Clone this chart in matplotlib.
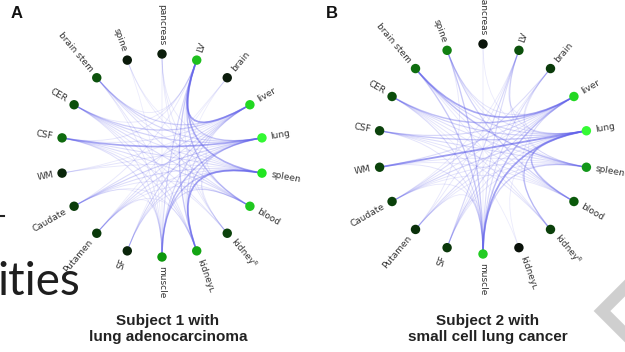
import matplotlib
matplotlib.use("Agg")
import matplotlib.pyplot as plt
from matplotlib.path import Path
from matplotlib.patches import PathPatch
import numpy as np

# nodes go clockwise from the top, 20 degrees apart
nodes = ["pancreas", "LV", "brain", "liver", "lung", "spleen", "blood", "kidneyR",
         "kidneyL", "muscle", "SF", "Putamen", "Caudate", "WM", "CSF", "CER",
         "brain stem", "spine"]
shown = ["pancreas", "LV", "brain", "liver", "lung", "spleen", "blood", "kidney\u1d3f",
         "kidney\u029f", "muscle", "SF", "Putamen", "Caudate", "WM", "CSF", "CER",
         "brain stem", "spine"]

colors_a = ["#0c1e0c", "#1fbf1f", "#0c1c0c", "#22d822", "#33f833", "#22e622", "#20c820",
            "#0b420b", "#13a513", "#0d980d", "#0a250a", "#0a3a0a", "#0b3d0b", "#0a260a",
            "#0f6a0f", "#0b500b", "#0c520c", "#0a1a0a"]
colors_b = ["#0a140a", "#0b500b", "#0a3a0a", "#22d822", "#35fa35", "#12961a", "#0b5a0b",
            "#0b400b", "#0a120a", "#22cc22", "#0a380a", "#0a300a", "#0a400a", "#0a420a",
            "#0b420b", "#0b4e0b", "#0f6e0f", "#128012"]

edges_a = [("LV", "liver", 0.85), ("LV", "spleen", 0.75), ("LV", "blood", 0.55),
           ("LV", "kidneyL", 0.5), ("LV", "lung", 0.45), ("LV", "muscle", 0.35),
           ("CSF", "lung", 0.8), ("lung", "muscle", 0.6), ("spleen", "kidneyL", 0.85),
           ("spleen", "muscle", 0.55), ("lung", "kidneyL", 0.45), ("liver", "CER", 0.45),
           ("lung", "CER", 0.4), ("lung", "brain stem", 0.35), ("liver", "brain stem", 0.4),
           ("spleen", "CSF", 0.3), ("lung", "Caudate", 0.4), ("spleen", "Caudate", 0.3),
           ("liver", "muscle", 0.35), ("liver", "kidneyL", 0.3), ("blood", "CER", 0.3),
           ("blood", "CSF", 0.3), ("lung", "Putamen", 0.3), ("spleen", "SF", 0.25),
           ("blood", "muscle", 0.3), ("liver", "Caudate", 0.3), ("liver", "Putamen", 0.25),
           ("blood", "brain stem", 0.25), ("muscle", "CSF", 0.25), ("kidneyL", "CSF", 0.25),
           ("pancreas", "blood", 0.15), ("pancreas", "kidneyR", 0.12), ("pancreas", "lung", 0.12),
           ("spine", "spleen", 0.1), ("spine", "lung", 0.1), ("brain", "Putamen", 0.1),
           ("brain", "SF", 0.08), ("WM", "lung", 0.2), ("WM", "spleen", 0.15), ("WM", "liver", 0.12),
           ("kidneyR", "CER", 0.18), ("kidneyR", "CSF", 0.15), ("kidneyR", "LV", 0.15),
           ("SF", "lung", 0.18), ("SF", "liver", 0.15), ("Putamen", "spleen", 0.2),
           ("Caudate", "blood", 0.18), ("Caudate", "kidneyL", 0.15), ("muscle", "CER", 0.2),
           ("muscle", "brain stem", 0.15), ("kidneyL", "CER", 0.2), ("kidneyL", "brain stem", 0.18),
           ("blood", "Putamen", 0.15), ("spleen", "brain stem", 0.2), ("spleen", "CER", 0.25),
           ("liver", "CSF", 0.2), ("liver", "SF", 0.15), ("LV", "CSF", 0.18), ("LV", "Caudate", 0.15),
           ("LV", "CER", 0.15), ("muscle", "Caudate", 0.12), ("muscle", "Putamen", 0.1),
           ("kidneyL", "Putamen", 0.12), ("blood", "SF", 0.12), ("lung", "kidneyR", 0.15),
           ("spleen", "kidneyR", 0.1), ("liver", "blood", 0.15), ("LV", "brain stem", 0.12),
           ("spine", "muscle", 0.08), ("pancreas", "muscle", 0.1), ("brain", "kidneyL", 0.08)]

edges_b = [("WM", "lung", 0.9), ("brain stem", "liver", 0.8), ("brain stem", "spleen", 0.6),
           ("CER", "liver", 0.6), ("CER", "lung", 0.4), ("CSF", "lung", 0.5), ("CSF", "spleen", 0.3),
           ("lung", "muscle", 0.85), ("liver", "muscle", 0.6), ("blood", "lung", 0.6),
           ("kidneyR", "lung", 0.55), ("spine", "muscle", 0.5), ("brain stem", "muscle", 0.5),
           ("spine", "blood", 0.4), ("LV", "SF", 0.35), ("brain", "Caudate", 0.3),
           ("Caudate", "lung", 0.35), ("Putamen", "liver", 0.3), ("SF", "liver", 0.3),
           ("spleen", "muscle", 0.45), ("CER", "muscle", 0.3), ("brain", "muscle", 0.3),
           ("LV", "muscle", 0.3), ("CSF", "liver", 0.35), ("WM", "liver", 0.3),
           ("brain stem", "lung", 0.35), ("spine", "lung", 0.25),
           ("pancreas", "muscle", 0.1), ("pancreas", "lung", 0.1), ("LV", "liver", 0.15),
           ("LV", "lung", 0.2), ("LV", "spleen", 0.15), ("brain", "lung", 0.2), ("brain", "spleen", 0.15),
           ("kidneyL", "lung", 0.1), ("kidneyL", "CER", 0.08), ("Putamen", "lung", 0.2),
           ("Putamen", "spleen", 0.15), ("SF", "lung", 0.2), ("SF", "spleen", 0.15),
           ("Caudate", "liver", 0.2), ("Caudate", "spleen", 0.2), ("WM", "spleen", 0.2),
           ("WM", "blood", 0.15), ("CSF", "blood", 0.2), ("CER", "spleen", 0.25), ("CER", "blood", 0.2),
           ("brain stem", "blood", 0.2), ("spine", "liver", 0.2), ("spine", "spleen", 0.15),
           ("kidneyR", "CER", 0.2), ("kidneyR", "CSF", 0.18), ("kidneyR", "liver", 0.15),
           ("blood", "liver", 0.15), ("muscle", "CSF", 0.2), ("muscle", "WM", 0.2),
           ("muscle", "Caudate", 0.15), ("muscle", "SF", 0.1), ("muscle", "Putamen", 0.12),
           ("blood", "Caudate", 0.15), ("LV", "Putamen", 0.15), ("brain", "SF", 0.12),
           ("spine", "Putamen", 0.15), ("LV", "Caudate", 0.12), ("kidneyR", "brain stem", 0.15)]

titles = ["Subject 1 with\nlung adenocarcinoma", "Subject 2 with\nsmall cell lung cancer"]
letters = ["A", "B"]

fig = plt.figure(figsize=(6.25, 3.52), dpi=100)
ax = fig.add_axes([0, 0, 1, 1])
ax.set_xlim(0, 625)
ax.set_ylim(352, 0)
ax.axis("off")

# leftovers of the slide behind the figure
ax.text(-3, 295, "ities", fontsize=33, family="Lato", color="#1e1e1e", va="baseline")
ax.plot([0, 4], [216, 216], color="#222222", lw=1.5)
ax.plot([645, 602, 645], [268, 311, 354], color="#cfcfcf", lw=8.5, solid_joinstyle="miter")


def circle(cx, cy, r, cols, edges, title, letter, tx, lx, ly):
    ang = np.deg2rad(90 - 20 * np.arange(len(nodes)))
    xs = cx + r * np.cos(ang)
    ys = cy - r * np.sin(ang)
    idx = {n: i for i, n in enumerate(nodes)}
    for a, b, w in sorted(edges, key=lambda e: e[2]):
        i, j = idx[a], idx[b]
        p = Path([(xs[i], ys[i]), (cx, cy), (xs[j], ys[j])],
                 [Path.MOVETO, Path.CURVE3, Path.CURVE3])
        ax.add_patch(PathPatch(p, fc="none", ec="#6262ea", lw=0.5 + 0.9 * w,
                               alpha=0.1 + 0.6 * w ** 1.3))
    ax.scatter(xs, ys, s=46, c=cols, zorder=3, linewidths=0)
    for k, name in enumerate(shown):
        deg = 90 - 20 * k
        lxk = cx + (r + 9) * np.cos(ang[k])
        lyk = cy - (r + 9) * np.sin(ang[k])
        if -90 <= deg < 90:
            ax.text(lxk, lyk, name, rotation=deg, ha="left", va="center",
                    rotation_mode="anchor", fontsize=6.5, color="#333333")
        else:
            ax.text(lxk, lyk, name, rotation=deg - 180, ha="right", va="center",
                    rotation_mode="anchor", fontsize=6.5, color="#333333")
    ax.text(tx, 329, title, ha="center", va="center", fontsize=11, family="Liberation Sans",
            weight="bold", color="#222222", linespacing=1.15)
    ax.text(lx, ly, letter, ha="center", va="center", fontsize=12, family="Liberation Sans",
            weight="bold", color="#111111")


circle(162, 155.5, 101.5, colors_a, edges_a, titles[0], letters[0], 168, 17, 14)
circle(483, 149, 105, colors_b, edges_b, titles[1], letters[1], 488, 332, 13)

fig.savefig("out.png", dpi=100)
